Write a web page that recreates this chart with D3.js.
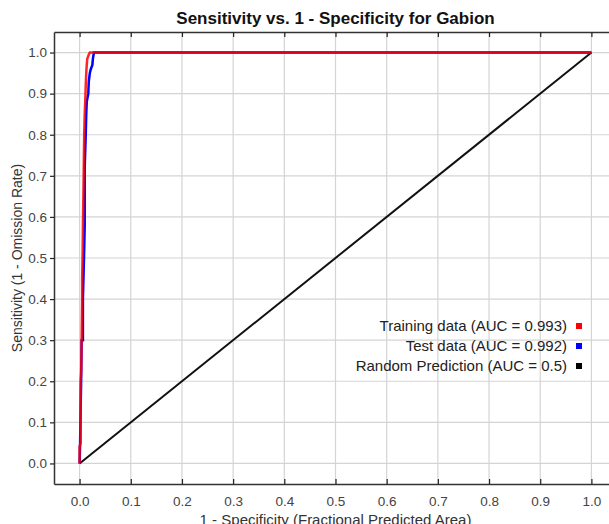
<!DOCTYPE html>
<html><head><meta charset="utf-8">
<script src="https://cdn.jsdelivr.net/npm/d3@7"></script>
<style>html,body{margin:0;padding:0;background:#fff;}svg{display:block;font-family:"Liberation Sans",Arial,sans-serif;}</style>
</head><body>
<script>
const title = "Sensitivity vs. 1 - Specificity for Gabion";
const xLabel = "1 - Specificity  (Fractional Predicted Area)";
const yLabel = "Sensitivity  (1 - Omission Rate)";
const ticks = [0,0.1,0.2,0.3,0.4,0.5,0.6,0.7,0.8,0.9,1.0];
const trainFpr = [0,0,0.002,0.002,0.003,0.004,0.005,0.005,0.006,0.0065,0.007,0.008,0.0085,0.009,0.010,0.011,0.012,0.013,0.014,0.015,0.018,0.020,1];
const trainTpr = [0,0.04,0.05,0.20,0.22,0.30,0.40,0.45,0.52,0.58,0.62,0.70,0.76,0.80,0.85,0.88,0.92,0.95,0.97,0.985,0.995,1.0,1.0];
const testFpr = [0,0.001,0.003,0.004,0.0065,0.0065,0.009,0.010,0.010,0.011,0.012,0.013,0.014,0.017,0.018,0.020,0.022,0.025,0.026,0.028,1];
const testTpr = [0,0.05,0.20,0.30,0.30,0.40,0.52,0.58,0.72,0.76,0.80,0.85,0.88,0.90,0.93,0.95,0.96,0.97,0.985,1.0,1.0];
const randFpr = [0,1];
const randTpr = [0,1];
const legendLabels = ["Training data (AUC = 0.993)","Test data (AUC = 0.992)","Random Prediction (AUC = 0.5)"];
const legendColors = ["#ff0000","#0000ff","#000000"];

const W=609,H=524;
const L=54,T=32,R=617,B=484;
const x=d3.scaleLinear().domain([-0.05,1.05]).range([L,R]);
const y=d3.scaleLinear().domain([-0.05,1.05]).range([B,T]);
const svg=d3.select("body").append("svg").attr("width",W).attr("height",H);

svg.append("g").selectAll("line.gx").data(ticks).join("line")
  .attr("x1",d=>x(d)).attr("x2",d=>x(d)).attr("y1",T).attr("y2",B)
  .attr("stroke","#d4d4d4").attr("stroke-width",1.2);
svg.append("g").selectAll("line.gy").data(ticks).join("line")
  .attr("y1",d=>y(d)).attr("y2",d=>y(d)).attr("x1",L).attr("x2",R)
  .attr("stroke","#d4d4d4").attr("stroke-width",1.2);

const fmt=d3.format(".1f");
const xb=svg.append("g").attr("transform",`translate(0,${B})`)
  .call(d3.axisBottom(x).tickValues(ticks).tickFormat(fmt).tickSizeInner(-5).tickSizeOuter(0).tickPadding(12));
const xt=svg.append("g").attr("transform",`translate(0,${T})`)
  .call(d3.axisTop(x).tickValues(ticks).tickFormat("").tickSizeInner(-5).tickSizeOuter(0));
const yl=svg.append("g").attr("transform",`translate(${L},0)`)
  .call(d3.axisLeft(y).tickValues(ticks).tickFormat(fmt).tickSize(4).tickSizeOuter(0).tickPadding(3));
[xb,xt,yl].forEach(g=>{
  g.selectAll(".domain").attr("stroke","#333").attr("stroke-width",1.5);
  g.selectAll(".tick line").attr("stroke","#222").attr("stroke-width",1.2);
  g.selectAll("text").attr("fill","#444").style("font-size","13.5px").style("font-family","'Liberation Sans',Arial,sans-serif");
});

const line=d3.line().x(d=>x(d[0])).y(d=>y(d[1]));
svg.append("clipPath").attr("id","c").append("rect").attr("x",L).attr("y",T).attr("width",R-L).attr("height",B-T);
const plot=svg.append("g").attr("clip-path","url(#c)");
plot.append("path").datum(d3.zip(randFpr,randTpr)).attr("d",line).attr("fill","none").attr("stroke","#111").attr("stroke-width",2);
plot.append("path").datum(d3.zip(testFpr,testTpr)).attr("d",line).attr("fill","none").attr("stroke","#0000ff").attr("stroke-width",2.5);
plot.append("path").datum(d3.zip(trainFpr,trainTpr)).attr("d",line).attr("fill","none").attr("stroke","#ff0000").attr("stroke-opacity",0.85).attr("stroke-width",2.5);

svg.append("text").attr("x",(L+R)/2).attr("y",24).attr("text-anchor","middle")
  .style("font-weight","bold").style("font-size","17px").attr("fill","#111").text(title);
svg.append("text").attr("x",(L+R)/2).attr("y",525).attr("text-anchor","middle")
  .style("font-size","15px").attr("fill","#333").text(xLabel);
svg.append("text").attr("transform",`translate(22,${(T+B)/2}) rotate(-90)`).attr("text-anchor","middle")
  .style("font-size","14px").attr("fill","#333").text(yLabel);

const lg=svg.append("g");
legendLabels.forEach((t,i)=>{
  const yy=326+i*20;
  lg.append("text").attr("x",567).attr("y",yy+5).attr("text-anchor","end").style("font-size","15px").attr("fill","#222").text(t);
  lg.append("rect").attr("x",576).attr("y",yy-3).attr("width",6).attr("height",6).attr("fill",legendColors[i]);
});
</script>
</body></html>
